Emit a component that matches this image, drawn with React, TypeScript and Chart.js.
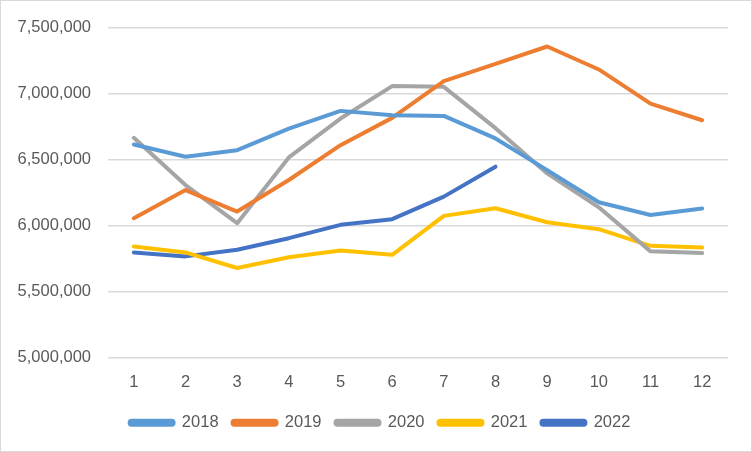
import React, { useEffect, useRef } from 'react';
import { Chart, registerables, ChartConfiguration } from 'chart.js';

Chart.register(...registerables);

const months = ['1', '2', '3', '4', '5', '6', '7', '8', '9', '10', '11', '12'];

const sales2018 = [6616000, 6523000, 6573000, 6737000, 6871000, 6838000, 6833000, 6662000, 6422000, 6178000, 6082000, 6131000];
const sales2019 = [6057000, 6271000, 6108000, 6347000, 6611000, 6818000, 7097000, 7228000, 7359000, 7185000, 6926000, 6800000];
const sales2020 = [6667000, 6309000, 6020000, 6518000, 6813000, 7059000, 7053000, 6740000, 6397000, 6140000, 5806000, 5793000];
const sales2021 = [5843000, 5798000, 5680000, 5761000, 5813000, 5780000, 6075000, 6133000, 6027000, 5974000, 5848000, 5836000];
const sales2022 = [5798000, 5768000, 5818000, 5906000, 6007000, 6050000, 6221000, 6448000];

const yMin = 5000000;
const yMax = 7500000;
const yStep = 500000;

const FONT = '"Liberation Sans", Arial, sans-serif';
const TEXT = '#595959';
const GRID = '#d9d9d9';

const line = (label: string, data: number[], color: string) => ({
    label,
    data,
    borderColor: color,
    backgroundColor: color,
    borderWidth: 4,
    borderCapStyle: 'round' as const,
    borderJoinStyle: 'round' as const,
    pointRadius: 0,
    pointHoverRadius: 0,
    tension: 0,
    fill: false,
});

const SalesChart: React.FC = () => {
    const canvasRef = useRef<HTMLCanvasElement>(null);
    const chartRef = useRef<Chart>();

    useEffect(() => {
        if (!canvasRef.current) return;
        const ctx = canvasRef.current.getContext('2d');
        if (!ctx) return;
        if (chartRef.current) chartRef.current.destroy();

        const config: ChartConfiguration = {
            type: 'line',
            data: {
                labels: months,
                datasets: [
                    line('2018', sales2018, '#5B9BD5'),
                    line('2019', sales2019, '#ED7D31'),
                    line('2020', sales2020, '#A5A5A5'),
                    line('2021', sales2021, '#FFC000'),
                    line('2022', sales2022, '#4472C4'),
                ],
            },
            options: {
                animation: false,
                responsive: true,
                maintainAspectRatio: false,
                layout: {
                    padding: { left: 8, right: 0, top: 5, bottom: 10 },
                },
                plugins: {
                    tooltip: { enabled: false },
                    legend: {
                        position: 'bottom',
                        labels: {
                            boxWidth: 44,
                            boxHeight: 4,
                            useBorderRadius: true,
                            borderRadius: 2,
                            padding: 14,
                            color: TEXT,
                            font: { family: FONT, size: 16.5 },
                        },
                    },
                },
                scales: {
                    x: {
                        offset: true,
                        grid: { display: false, drawTicks: false },
                        border: { display: false },
                        ticks: {
                            color: TEXT,
                            padding: 15,
                            maxRotation: 0,
                            font: { family: FONT, size: 16.5 },
                        },
                        afterFit: (axis) => {
                            axis.height -= 7;
                        },
                    },
                    y: {
                        min: yMin,
                        max: yMax,
                        grid: { color: GRID, lineWidth: 1.5, drawTicks: false },
                        border: { display: false },
                        ticks: {
                            stepSize: yStep,
                            color: TEXT,
                            padding: 17,
                            font: { family: FONT, size: 16.5 },
                            callback: (v) => Number(v).toLocaleString('en-US'),
                        },
                        afterFit: (axis) => {
                            axis.width = 99;
                        },
                    },
                    // empty spacer on the right so the legend centres like Excel's
                    yRight: {
                        position: 'right',
                        display: true,
                        grid: { display: false, drawTicks: false },
                        border: { display: false },
                        ticks: { display: false },
                        afterFit: (axis) => {
                            axis.width = 23;
                        },
                    },
                },
            },
        };

        chartRef.current = new Chart(ctx, config);

        return () => {
            if (chartRef.current) {
                chartRef.current.destroy();
                chartRef.current = undefined;
            }
        };
    }, []);

    return (
        <div style={{ position: 'absolute', left: 0, top: 0, width: 752, height: 452, boxSizing: 'border-box', border: '1px solid #d9d9d9', background: '#fff' }}>
            <div style={{ position: 'relative', width: 750, height: 450 }}>
                <canvas ref={canvasRef} />
            </div>
        </div>
    );
};

export default function App() {
    return <SalesChart />;
}
